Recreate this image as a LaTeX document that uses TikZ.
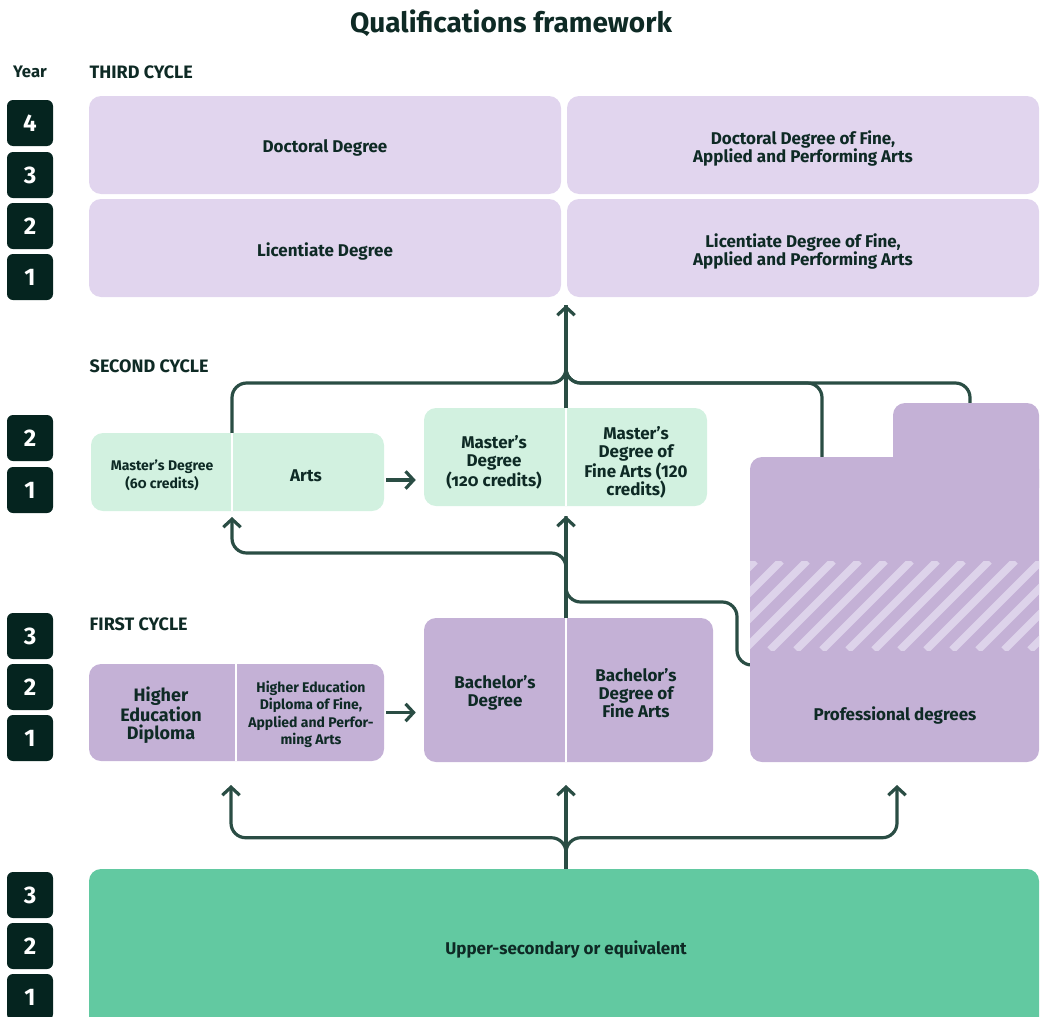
\documentclass[tikz,border=0pt]{standalone}
\usepackage{fontspec}
\setmainfont{Fira Sans}
\usetikzlibrary{positioning}
\usetikzlibrary{fit,backgrounds}
\usetikzlibrary{arrows.meta}

\definecolor{ink}{HTML}{0E2A25}
\definecolor{badge}{HTML}{05241F}
\definecolor{route}{HTML}{2A4D44}
\definecolor{lavlight}{HTML}{E1D5EE}
\definecolor{lavmid}{HTML}{C4B1D6}
\definecolor{lavstripe}{HTML}{DDD3EA}
\definecolor{mint}{HTML}{D2F1E0}
\definecolor{jade}{HTML}{62C9A1}

\tikzset{
  degbox/.style={rounded corners=9pt, inner sep=0pt},
  txt/.style={align=center, text=ink, yshift=-2.5pt, font=\bfseries\fontsize{12.75}{13.5}\selectfont},
  smalltxt/.style={txt, font=\bfseries\fontsize{10.5}{13}\selectfont},
  bigtxt/.style={txt, font=\bfseries\fontsize{13.5}{13.5}\selectfont},
  cyclelabel/.style={anchor=west, text=ink, font=\bfseries\fontsize{13.5}{14}\selectfont},
  year/.style={fill=badge, rounded corners=4.5pt, minimum size=34.5pt, inner sep=0pt,
    text=white, font=\bfseries\fontsize{18}{18}\selectfont},
  divider/.style={draw=white, line width=1.5pt},
  conn/.style={draw=route, line width=2.4pt, rounded corners=11pt},
  arrowup/.style={-{Straight Barb[length=6pt,width=13pt]}}
}

\begin{document}
\begin{tikzpicture}[x=0.75pt, y=-0.75pt]
\useasboundingbox (0,0) rectangle (1042,1017);

% title + headings
\node[txt, font=\bfseries\fontsize{21}{24}\selectfont] (title) at (511,20) {Qualifications framework};
\node[cyclelabel, anchor=center, font=\bfseries\fontsize{12.5}{14}\selectfont] (yearhd) at (30,72) {Year};
\node[cyclelabel] (third) at (85,72) {THIRD CYCLE};
\node[cyclelabel] (second) at (85,366) {SECOND CYCLE};
\node[cyclelabel] (first) at (85,624) {FIRST CYCLE};

% year badges
\node[year] (t4) at (30,123) {4};
\node[year] (t3) at (30,175) {3};
\node[year] (t2) at (30,226) {2};
\node[year] (t1) at (30,277) {1};
\node[year] (s2) at (30,438) {2};
\node[year] (s1) at (30,490) {1};
\node[year] (f3) at (30,636) {3};
\node[year] (f2) at (30,687) {2};
\node[year] (f1) at (30,738) {1};
\node[year] (u3) at (30,895) {3};
\node[year] (u2) at (30,946) {2};
\node[year] (u1) at (30,997) {1};

% third cycle
\node[degbox, fill=lavlight, fit={(89,96) (561,194)}] (doc) {};
\node[degbox, fill=lavlight, fit={(567,96) (1039,194)}] (docart) {};
\node[degbox, fill=lavlight, fit={(89,199) (561,297)}] (lic) {};
\node[degbox, fill=lavlight, fit={(567,199) (1039,297)}] (licart) {};
\node[txt] (doct) at (doc) {Doctoral Degree};
\node[txt] (docartt) at (docart) {Doctoral Degree of Fine,\\Applied and Performing Arts};
\node[txt] (lict) at (lic) {Licentiate Degree};
\node[txt] (licartt) at (licart) {Licentiate Degree of Fine,\\Applied and Performing Arts};

% second cycle
\node[degbox, fill=mint, fit={(91,433) (384,511)}] (ma60) {};
\node[degbox, fill=mint, fit={(424,408) (707,506)}] (ma120) {};
\draw[divider] (232,433) -- (232,511);
\draw[divider] (566,408) -- (566,506);
\node[smalltxt] (ma60t) at (162,472) {Master’s Degree\\\addfontfeature{Numbers=OldStyle}(60 credits)};
\node[txt] (artst) at (306,472) {Arts};
\node[txt] (ma120t) at (494,459) {Master’s\\Degree\\\addfontfeature{Numbers=OldStyle}(120 credits)};
\node[txt] (mfat) at (636,459) {\addfontfeature{Numbers=OldStyle}Master’s\\Degree of\\Fine Arts (120\\credits)};

% professional degrees (tab + body + hatched band)
\node[degbox, fill=lavmid, fit={(893,403) (1039,500)}] (proftab) {};
\node[degbox, fill=lavmid, fit={(750,457) (1039,762)}] (prof) {};
\begin{scope}
\clip (750,561) rectangle (1039,650);
\foreach \s in {640,666,...,1040}
  \draw[lavstripe, line width=5.8pt] (\s,650) -- (\s+89,561);
\end{scope}
\node[txt] (proft) at (895,712) {Professional degrees};

% first cycle
\node[degbox, fill=lavmid, fit={(89,664) (384,761)}] (hed) {};
\node[degbox, fill=lavmid, fit={(424,618) (713,762)}] (bach) {};
\draw[divider] (236,664) -- (236,761);
\draw[divider] (566,618) -- (566,762);
\node[bigtxt] (hedt) at (161,712) {Higher\\Education\\Diploma};
\node[smalltxt] (hedartt) at (311,711) {Higher Education\\Diploma of Fine,\\Applied and Perfor-\\ming Arts};
\node[txt] (bacht) at (495,690) {Bachelor’s\\Degree};
\node[txt] (bfat) at (636,690) {Bachelor’s\\Degree of\\Fine Arts};

% upper secondary
\node[degbox, fill=jade, fit={(89,869) (1039,1035)}] (usec) {};
\node[txt] (usect) at (566,946) {Upper-secondary or equivalent};

% connectors, behind the boxes
\begin{scope}[on background layer]
\coordinate (hedin) at (231,785);
\coordinate (bachin) at (566,785);
\coordinate (profin) at (897,785);
\coordinate (bachtop) at (566,630);
\coordinate (ma120in) at (566,516);
\coordinate (ma60in) at (232,517);
\coordinate (profout) at (765,665);
\coordinate (ma120top) at (566,420);
\coordinate (ma60top) at (232,445);
\coordinate (proftop) at (822,470);
\coordinate (tabtop) at (970,415);
\coordinate (licin) at (566,305);

\draw[conn, arrowup] (usec.north -| bachin) -- (bachin);
\draw[conn, arrowup] (usec.north -| bachin) -- ++(0,-31) -| (hedin);
\draw[conn, arrowup] (usec.north -| bachin) -- ++(0,-31) -| (profin);

\draw[conn, arrowup] (bachtop) -- (ma120in);
\draw[conn, arrowup] (bachtop) -- ++(0,-77) -| (ma60in);
\draw[conn] (profout) -- ++(-28,0) -- ++(0,-63) -| (ma120in);

\draw[conn, arrowup] (ma120top) -- (licin);
\draw[conn] (ma60top) -- ++(0,-62) -| (licin);
\draw[conn] (proftop) -- ++(0,-87) -| (licin);
\draw[conn] (tabtop) -- ++(0,-32) -| (licin);
\end{scope}

% side arrows
\draw[conn, arrowup, shorten <=1.5pt, shorten >=6pt] ([yshift=-6pt]ma60.east) -- ([yshift=-6pt]ma60.east -| ma120.west);
\draw[conn, arrowup, shorten <=1.5pt, shorten >=6pt] (hed.east) -- (hed.east -| bach.west);

\end{tikzpicture}
\end{document}
